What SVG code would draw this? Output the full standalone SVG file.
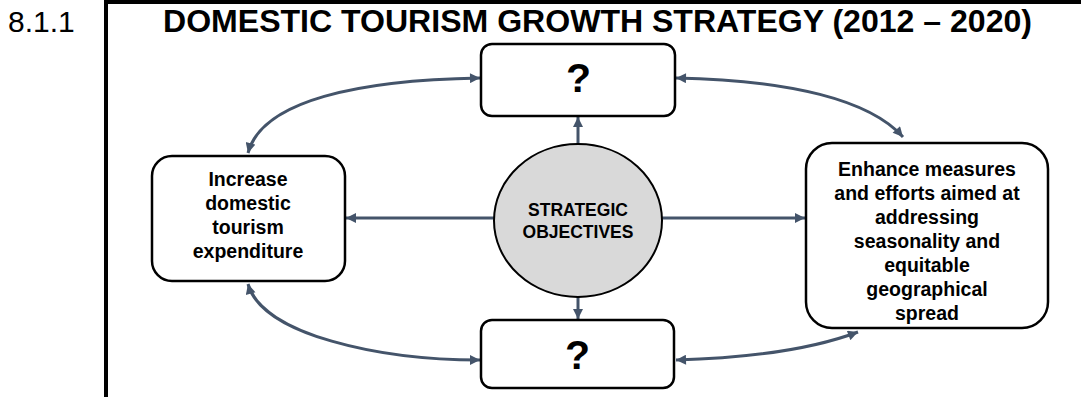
<svg xmlns="http://www.w3.org/2000/svg" width="1081" height="397" viewBox="0 0 1081 397">
<style>
.t{font-family:"Liberation Sans",Arial,sans-serif;font-weight:bold;fill:#000;text-anchor:middle}
.box{fill:#fff;stroke:#000;stroke-width:2.5}
.c{fill:none;stroke:#44546A;stroke-width:3}
</style>
<defs>
<marker id="ah" viewBox="0 0 10 10" refX="10" refY="5" markerWidth="11" markerHeight="10" markerUnits="userSpaceOnUse" orient="auto-start-reverse">
<path d="M0,0 L10,5 L0,10 z" fill="#44546A"/>
</marker>
</defs>
<rect width="1081" height="397" fill="#fff"/>
<text x="8" y="32" font-family="Liberation Sans,Arial,sans-serif" font-size="30" fill="#000">8.1.1</text>
<path d="M106 397 V2 H1081" fill="none" stroke="#000" stroke-width="4"/>
<text class="t" x="597.5" y="32" font-size="31" textLength="869" lengthAdjust="spacingAndGlyphs">DOMESTIC TOURISM GROWTH STRATEGY (2012 – 2020)</text>
<g id="connectors">
<path class="c" d="M578 144 V117" marker-end="url(#ah)"/>
<path class="c" d="M578 297 V319" marker-end="url(#ah)"/>
<path class="c" d="M494 218 H346" marker-end="url(#ah)"/>
<path class="c" d="M662 218 H805" marker-end="url(#ah)"/>
<path class="c" d="M248 153 C262 100 360 80 480 78" marker-start="url(#ah)" marker-end="url(#ah)"/>
<path class="c" d="M676 78 C790 80 870 100 903 137" marker-start="url(#ah)" marker-end="url(#ah)"/>
<path class="c" d="M248 284 C262 335 380 360 480 360" marker-start="url(#ah)" marker-end="url(#ah)"/>
<path class="c" d="M676 360 C750 358 810 350 858 332" marker-start="url(#ah)" marker-end="url(#ah)"/>
</g>
<g id="top">
<rect class="box" x="481" y="44" width="194" height="72" rx="11"/>
<text class="t" x="578.5" y="92" font-size="41">?</text>
</g>
<g id="bottom">
<rect class="box" x="481" y="320" width="193" height="68" rx="11"/>
<text class="t" x="577.5" y="369" font-size="41">?</text>
</g>
<g id="center">
<ellipse cx="578" cy="220.5" rx="84" ry="76.5" fill="#D9D9D9" stroke="#000" stroke-width="2"/>
<text class="t" x="578" y="216" font-size="17.5">STRATEGIC</text>
<text class="t" x="578" y="238" font-size="17.5">OBJECTIVES</text>
</g>
<g id="left">
<rect class="box" x="152" y="156" width="193" height="125" rx="20"/>
<text class="t" font-size="19.5"><tspan x="248" y="186">Increase</tspan><tspan x="248" y="210">domestic</tspan><tspan x="248" y="234">tourism</tspan><tspan x="248" y="258">expenditure</tspan></text>
</g>
<g id="right">
<rect class="box" x="806" y="143" width="242" height="185" rx="26"/>
<text class="t" font-size="19.5"><tspan x="927" y="176">Enhance measures</tspan><tspan x="927" y="200">and efforts aimed at</tspan><tspan x="927" y="224">addressing</tspan><tspan x="927" y="248">seasonality and</tspan><tspan x="927" y="272">equitable</tspan><tspan x="927" y="296">geographical</tspan><tspan x="927" y="320">spread</tspan></text>
</g>
</svg>
